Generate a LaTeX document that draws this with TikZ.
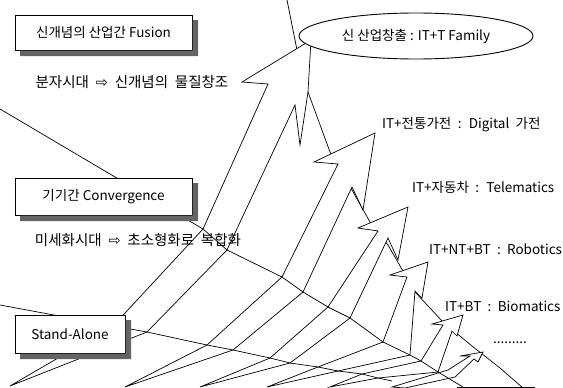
\documentclass[tikz,border=0pt]{standalone}
\usepackage{fontspec}
\usetikzlibrary{shapes.geometric}
\setmainfont{Noto Sans CJK KR}
\newfontfamily\widesp[WordSpace=1.9]{Noto Sans CJK KR}
\newfontfamily\widespb[WordSpace=2.1]{Noto Sans CJK KR}
\newfontfamily\symf{DejaVu Sans}
\definecolor{shadc}{RGB}{100,100,100}
\begin{document}
\begin{tikzpicture}[x=1pt,y=-1pt,
  ln/.style={line width=0.7pt,line join=miter},
  arr/.style={ln,draw=black,fill=white},
  lbl/.style={font=\widesp\fontsize{13.5}{14}\selectfont,inner sep=0pt},
  mlbl/.style={font=\widespb\fontsize{14.5}{15}\selectfont,inner sep=0pt},
  boxn/.style={draw,fill=white,line width=0.9pt,inner sep=0pt,font=\fontsize{13.5}{14}\selectfont},
  shadow strip/.style={fill=shadc,draw=none}]
\useasboundingbox (0,0) rectangle (563,388);
% fold points on line A (a) and line B (b)
\coordinate (a1l) at (203,229); \coordinate (a1r) at (227,250);
\coordinate (a2l) at (282,277); \coordinate (a2r) at (303,292);
\coordinate (a3l) at (328,307); \coordinate (a3r) at (350,318);
\coordinate (a4l) at (383,342); \coordinate (a4r) at (410,355);
\coordinate (a5l) at (421,361); \coordinate (a5r) at (438,372);
\coordinate (b1l) at (113,326); \coordinate (b1r) at (147,332);
\coordinate (b2l) at (207,345); \coordinate (b2r) at (233,350);
\coordinate (b3l) at (270,358); \coordinate (b3r) at (290,363);
\coordinate (b4l) at (318,367); \coordinate (b4r) at (338,371);
\coordinate (b5l) at (362,374); \coordinate (b5r) at (378,378);
% ridge line behind the arrows
\draw[ln] (287,0) -- (297,50) -- (308,92) -- (330,152) -- (352,190) -- (370,222) -- (388,245) -- (415,292) -- (443,322) -- (472,346) -- (500,368) -- (523,388);
\draw[ln] (457,387.5) -- (535,387.5);
% arrows, back to front
\path[arr] (10,386) -- (b1l) -- (a1l) -- (268,84) -- (242,82) -- (311,40) -- (308,92) -- (300,145) -- (295,105) -- (a1r) -- (b1r) -- cycle;
\path[arr] (125,387) -- (b2l) -- (a2l) -- (338,164) -- (314,162) -- (375,133) -- (363,210) -- (352,187) -- (a2r) -- (b2r) -- cycle;
\path[arr] (200,387) -- (b3l) -- (a3l) -- (378,231) -- (358,228) -- (408,207) -- (398,260) -- (388,238) -- (a3r) -- (b3r) -- cycle;
\path[arr] (267,387) -- (b4l) -- (a4l) -- (407,277) -- (390,275) -- (428,262) -- (422,298) -- (415,291) -- (a4r) -- (b4r) -- cycle;
\path[arr] (330,387) -- (b5l) -- (a5l) -- (443,325) -- (432,324) -- (463,315) -- (457,336) -- (452,331) -- (a5r) -- (b5r) -- cycle;
\path[arr] (392,387) -- (448,370) -- (470,356) -- (460,356) -- (483,352) -- (478,362) -- (474,359) -- (455,377) -- (405,388) -- cycle;
% plane boundary lines (they meet the arrows at their folds)
\draw[ln] (0,109) -- (a1l) -- (a1r) -- (a2l) -- (a2r) -- (a3l) -- (a3r) -- (a4l) -- (a4r) -- (a5l) -- (a5r) -- (463,387);
\draw[ln] (0,305) -- (b1l) -- (b1r) -- (b2l) -- (b2r) -- (b3l) -- (b3r) -- (b4l) -- (b4r) -- (b5l) -- (b5r) -- (392,381);
% boxes with shadows
\node[boxn,minimum width=177pt,minimum height=35pt] (fus) at (103.5,32.5) {신개념의 산업간 Fusion};
\path[shadow strip] (192.5,20) rectangle (198,56) (20,50.5) rectangle (198,56);
\node[boxn,minimum width=177pt,minimum height=37pt] (conv) at (103.5,196.5) {기기간 Convergence};
\path[shadow strip] (192.5,183) rectangle (198,221) (20,215.5) rectangle (198,221);
\node[boxn,minimum width=110pt,minimum height=38pt] (sa) at (70,334) {Stand-Alone};
\path[shadow strip] (125.5,320) rectangle (131,359) (20,353.5) rectangle (131,359);
\node[draw,fill=white,ellipse,line width=0.9pt,minimum width=234pt,minimum height=46pt,inner sep=0pt,font=\fontsize{13.5}{14}\selectfont] (new) at (416,36) {신 산업창출 : IT+T Family};
% labels
\node[mlbl] (t1) at (132,82) {분자시대 {\symf ⇨} 신개념의 물질창조};
\node[mlbl] (t2) at (138,240) {미세화시대 {\symf ⇨} 초소형화로 복합화};
\node[lbl,anchor=west] (l1) at (382,125) {IT+전통가전 : Digital 가전};
\node[lbl,anchor=west] (l2) at (412,187) {IT+자동차 : Telematics};
\node[lbl,anchor=west] (l3) at (429,249) {IT+NT+BT : Robotics};
\node[lbl,anchor=west] (l4) at (445,306) {IT+BT : Biomatics};
\node[lbl,anchor=west] (l5) at (493,343) {.........};
\end{tikzpicture}
\end{document}
